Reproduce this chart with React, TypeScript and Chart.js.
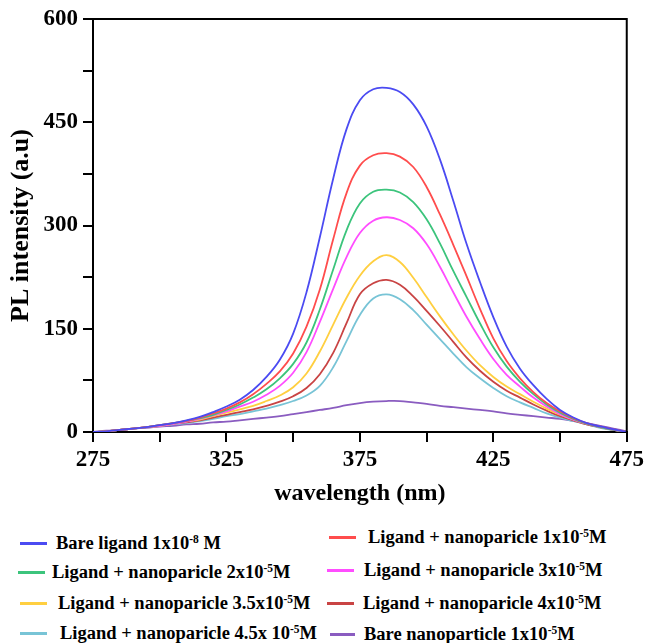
import React, { useEffect, useRef } from 'react';
import { Chart, registerables } from 'chart.js';

Chart.register(...registerables);

// ---------- data ----------
const wavelengths = [
  275, 280, 285, 290, 295, 300, 305, 310, 315, 320, 325, 330, 335, 340, 345, 350, 355, 360, 365, 370, 375,
  380, 385, 390, 395, 400, 405, 410, 415, 420, 425, 430, 435, 440, 445, 450, 455, 460, 465, 470, 475,
];

const bareLigand = [
  0, 1, 3, 5, 7, 10, 13, 17, 22, 29, 37, 47, 61, 80, 105, 143, 203, 283, 368, 440, 482, 498, 500,
  494, 476, 444, 396, 336, 273, 218, 167, 124, 92, 68, 48, 32, 21, 13, 8, 4, 0,
];
const ligandNp1 = [
  0, 1, 3, 5, 7, 10, 13, 16, 21, 27, 34, 43, 55, 70, 88, 114, 153, 207, 280, 347, 387, 402, 405,
  400, 385, 356, 316, 272, 226, 179, 136, 103, 78, 58, 42, 30, 20, 13, 8, 4, 0,
];
const ligandNp2 = [
  0, 1, 3, 5, 7, 10, 13, 16, 20, 25, 32, 40, 50, 62, 78, 99, 130, 178, 236, 293, 332, 349, 352,
  348, 334, 309, 274, 234, 196, 158, 123, 95, 73, 55, 40, 28, 19, 12, 7, 3, 0,
];
const ligandNp3 = [
  0, 1, 3, 5, 7, 9, 12, 15, 19, 24, 30, 37, 44, 54, 67, 86, 116, 160, 208, 254, 289, 307, 312,
  308, 296, 273, 240, 203, 167, 135, 106, 83, 66, 50, 37, 26, 18, 12, 7, 3, 0,
];
const ligandNp35 = [
  0, 1, 3, 5, 7, 9, 12, 15, 18, 23, 28, 33, 38, 45, 53, 65, 85, 117, 156, 195, 227, 248, 257,
  247, 224, 196, 168, 142, 118, 97, 80, 66, 55, 44, 34, 25, 18, 12, 7, 3, 0,
];
const ligandNp4 = [
  0, 1, 3, 5, 7, 9, 12, 14, 17, 21, 25, 29, 33, 38, 44, 52, 64, 84, 115, 158, 200, 216, 221,
  214, 197, 176, 154, 131, 108, 89, 73, 60, 50, 40, 31, 23, 17, 11, 7, 3, 0,
];
const ligandNp45 = [
  0, 1, 3, 5, 7, 9, 11, 13, 16, 19, 23, 26, 30, 34, 39, 45, 53, 67, 94, 132, 170, 194, 200,
  193, 177, 156, 135, 114, 94, 78, 64, 52, 43, 35, 27, 21, 16, 11, 6, 3, 0,
];
const bareNp = [
  0, 2, 3, 5, 6, 8, 9, 11, 12, 14, 15, 17, 19, 21, 23, 26, 29, 32, 35, 39, 42, 44, 45,
  45, 43, 41, 38, 36, 34, 32, 30, 27, 25, 23, 21, 19, 16, 13, 9, 5, 1,
];

const seriesValues = [bareLigand, ligandNp1, ligandNp2, ligandNp3, ligandNp35, ligandNp4, ligandNp45, bareNp];

// legend text parts: [before superscript, superscript, after]
const seriesLabelParts: [string, string, string][] = [
  ['Bare ligand 1x10', '-8', ' M'],
  ['Ligand + nanoparicle 1x10', '-5', 'M'],
  ['Ligand + nanoparicle 2x10', '-5', 'M'],
  ['Ligand + nanoparicle 3x10', '-5', 'M'],
  ['Ligand + nanoparicle 3.5x10', '-5', 'M'],
  ['Ligand + nanoparicle 4x10', '-5', 'M'],
  ['Ligand + nanoparicle 4.5x 10', '-5', 'M'],
  ['Bare nanoparticle 1x10', '-5', 'M'],
];

const seriesColors = ['#4b4bf2', '#ff4d4d', '#3cc47c', '#ff4dff', '#ffcf40', '#c94444', '#78c4d6', '#8a5cc0'];

const xTickLabels = [275, 325, 375, 425, 475];
const yTickLabels = [0, 150, 300, 450, 600];

const FONT = "'Liberation Serif', 'Times New Roman', serif";

// legend layout (page pixels): [lineLeft, lineWidth, textLeft, centerY]
const legendPos: [number, number, number, number][] = [
  [20, 27, 56, 543],
  [329, 27, 368, 537],
  [18, 27, 52, 572],
  [327, 27, 364, 570],
  [20, 27, 58, 603],
  [327, 27, 363, 603],
  [20, 27, 60, 633],
  [330, 25, 364, 634],
];

export default function App() {
  const canvasRef = useRef<HTMLCanvasElement>(null);

  useEffect(() => {
    const canvas = canvasRef.current;
    if (!canvas) return;

    const boxPlugin = {
      id: 'boxFrame',
      afterDraw(chart: any) {
        const { ctx, chartArea: a } = chart;
        ctx.save();
        ctx.strokeStyle = '#000';
        ctx.lineWidth = 2;
        ctx.beginPath();
        ctx.moveTo(a.left, a.top);
        ctx.lineTo(a.right, a.top);
        ctx.lineTo(a.right, a.bottom);
        ctx.stroke();
        ctx.restore();
      },
    };

    const chart = new Chart(canvas, {
      type: 'line',
      data: {
        datasets: seriesValues.map((vals, i) => ({
          label: seriesLabelParts[i].join(''),
          data: wavelengths.map((w, j) => ({ x: w, y: vals[j] })),
          borderColor: seriesColors[i],
          backgroundColor: seriesColors[i],
          borderWidth: 1.8,
          pointRadius: 0,
          tension: 0.4,
          fill: false,
        })),
      },
      options: {
        animation: false,
        responsive: false,
        layout: { padding: { top: 19, right: 17, left: 0, bottom: 0 } },
        plugins: { legend: { display: false }, tooltip: { enabled: false } },
        scales: {
          x: {
            type: 'linear',
            min: 275,
            max: 475,
            afterFit: (s: any) => {
              s.height = 83;
            },
            ticks: {
              stepSize: 25,
              autoSkip: false,
              maxRotation: 0,
              minRotation: 0,
              padding: 4,
              color: '#000',
              font: { family: FONT, size: 23, weight: 'bold' },
              callback: (v: any) => (xTickLabels.includes(Number(v)) ? String(v) : ''),
            },
            grid: { drawOnChartArea: false, drawTicks: true, tickLength: 10, color: '#000', lineWidth: 2 },
            border: { display: true, color: '#000', width: 2 },
            title: {
              display: true,
              text: 'wavelength (nm)',
              color: '#000',
              font: { family: FONT, size: 24, weight: 'bold' },
              padding: { top: 0, bottom: 7 },
            },
          },
          y: {
            min: 0,
            max: 600,
            afterFit: (s: any) => {
              s.width = 93;
            },
            ticks: {
              stepSize: 75,
              autoSkip: false,
              padding: 5,
              color: '#000',
              font: { family: FONT, size: 23, weight: 'bold' },
              callback: (v: any) => (yTickLabels.includes(Number(v)) ? String(v) : ''),
            },
            grid: { drawOnChartArea: false, drawTicks: true, tickLength: 10, color: '#000', lineWidth: 2 },
            border: { display: true, color: '#000', width: 2 },
            title: {
              display: true,
              text: 'PL intensity (a.u)',
              color: '#000',
              font: { family: FONT, size: 26, weight: 'bold' },
              padding: { top: 6, bottom: 0 },
            },
          },
        },
      } as any,
      plugins: [boxPlugin],
    });

    return () => chart.destroy();
  }, []);

  return (
    <div style={{ position: 'absolute', left: 0, top: 0, width: 648, height: 643, background: '#fff', overflow: 'hidden' }}>
      <canvas ref={canvasRef} width={648} height={515} style={{ display: 'block', width: 648, height: 515 }} />
      {seriesLabelParts.map((parts, i) => {
        const [lineLeft, lineW, textLeft, cy] = legendPos[i];
        return (
          <React.Fragment key={i}>
            <div
              style={{
                position: 'absolute',
                left: lineLeft,
                top: cy - 1.5,
                width: lineW,
                height: 3,
                background: seriesColors[i],
              }}
            />
            <div
              style={{
                position: 'absolute',
                left: textLeft,
                top: cy - 13,
                height: 26,
                lineHeight: '26px',
                whiteSpace: 'nowrap',
                fontFamily: FONT,
                fontWeight: 'bold',
                fontSize: 18.5,
                color: '#000',
              }}
            >
              {parts[0]}
              <sup style={{ fontSize: '0.62em', verticalAlign: 'baseline', position: 'relative', top: '-0.55em' }}>{parts[1]}</sup>
              {parts[2]}
            </div>
          </React.Fragment>
        );
      })}
    </div>
  );
}
